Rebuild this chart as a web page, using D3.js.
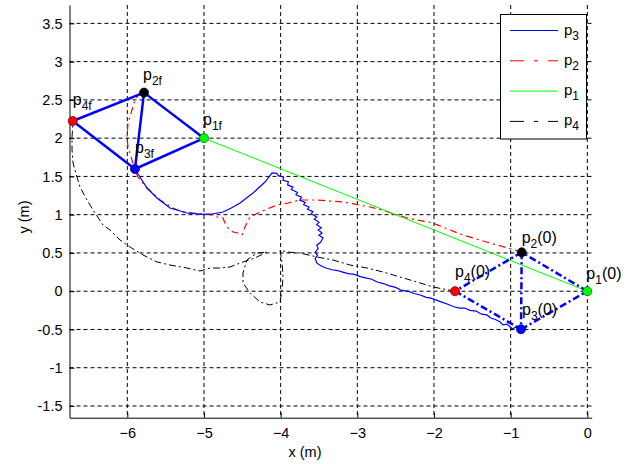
<!DOCTYPE html>
<html>
<head>
<meta charset="utf-8">
<script src="https://cdn.jsdelivr.net/npm/d3@7"></script>
<style>
  body { margin: 0; background: #fff; }
  svg { display: block; font-family: "Liberation Sans", Arial, Helvetica, sans-serif; }
</style>
</head>
<body>
<svg id="chart" width="635" height="464"></svg>
<script>
// ---------- data ----------
const xTicks = [-6, -5, -4, -3, -2, -1, 0];
const yTicks = [-1.5, -1, -0.5, 0, 0.5, 1, 1.5, 2, 2.5, 3, 3.5];

// initial and final positions of the four points [x, y]
const initialPts = { p1: [0, 0], p2: [-0.856, 0.508], p3: [-0.865, -0.498], p4: [-1.726, 0] };
const finalPts   = { p1: [-5.0, 2.0], p2: [-5.782, 2.595], p3: [-5.90, 1.597], p4: [-6.712, 2.224] };
const edges = [["p1","p2"],["p2","p4"],["p4","p3"],["p3","p1"],["p2","p3"]];

// trajectory of p1 (straight)
const trajP1 = [[0, 0], [-5.0, 2.0]];

// trajectory of p2
const trajP2 = [
  [-0.856,0.508],[-0.943,0.538],[-1.269,0.630],[-1.660,0.747],[-2.012,0.891],[-2.351,0.957],
  [-2.677,1.061],[-2.834,1.100],[-3.186,1.166],[-3.525,1.192],[-3.747,1.192],[-3.904,1.153],
  [-4.047,1.126],[-4.269,1.035],[-4.400,0.970],[-4.465,0.839],[-4.504,0.735],[-4.556,0.761],
  [-4.621,0.774],[-4.687,0.826],[-4.726,0.891],[-4.752,0.957],[-4.830,0.970],[-4.895,0.996],
  [-5.013,1.009],[-5.143,1.022],[-5.274,1.035],[-5.404,1.087],[-5.573,1.192],[-5.743,1.348],
  [-5.861,1.492],[-5.900,1.584],[-5.939,1.715],[-5.991,1.884],[-6.004,2.015],[-5.991,2.198],
  [-5.939,2.368],[-5.900,2.499],[-5.835,2.590],[-5.782,2.595]
];

// trajectory of p3
const trajP3 = [
  [-0.865,-0.498],[-0.93,-0.47],[-0.98,-0.49],[-1.05,-0.43],[-1.10,-0.44],[-1.14,-0.40],
  [-1.20,-0.37],[-1.26,-0.35],[-1.31,-0.31],[-1.38,-0.30],[-1.45,-0.26],[-1.53,-0.25],
  [-1.60,-0.22],[-1.67,-0.22],[-1.75,-0.20],[-1.82,-0.17],[-1.88,-0.15],[-1.96,-0.12],
  [-2.04,-0.09],[-2.10,-0.08],[-2.18,-0.05],[-2.26,-0.03],[-2.34,0.00],[-2.42,0.01],
  [-2.50,0.05],[-2.58,0.07],[-2.66,0.10],[-2.74,0.12],[-2.82,0.16],[-2.88,0.17],
  [-2.96,0.19],[-3.04,0.22],[-3.12,0.23],[-3.19,0.25],[-3.26,0.27],[-3.33,0.28],
  [-3.40,0.30],[-3.47,0.33],[-3.53,0.37],[-3.55,0.43],[-3.52,0.47],[-3.55,0.51],
  [-3.51,0.56],[-3.53,0.60],[-3.48,0.64],[-3.447,0.695],[-3.50,0.73],[-3.46,0.76],
  [-3.51,0.80],[-3.47,0.83],[-3.53,0.87],[-3.50,0.90],[-3.56,0.94],[-3.53,0.97],
  [-3.60,1.01],[-3.58,1.04],[-3.65,1.07],[-3.63,1.10],[-3.70,1.13],[-3.68,1.16],
  [-3.75,1.19],[-3.73,1.23],[-3.80,1.26],[-3.78,1.29],[-3.86,1.33],[-3.84,1.36],
  [-3.91,1.39],[-3.90,1.43],[-3.97,1.45],[-3.96,1.49],[-4.03,1.51],[-4.05,1.54],
  [-4.112,1.545],[-4.204,1.427],[-4.360,1.283],[-4.530,1.153],[-4.650,1.085],[-4.752,1.035],
  [-4.880,1.012],[-5.013,1.005],[-5.222,1.022],[-5.443,1.087],[-5.613,1.218],[-5.743,1.348],
  [-5.835,1.492],[-5.900,1.597]
];

// trajectory of p4
const trajP4 = [
  [-1.726,0],[-2.012,0.055],[-2.221,0.120],[-2.443,0.186],[-2.664,0.251],[-2.873,0.303],
  [-3.095,0.342],[-3.317,0.408],[-3.525,0.447],[-3.747,0.499],[-3.917,0.512],[-4.008,0.538],
  [-3.982,0.382],[-3.969,0.186],[-3.982,0.016],[-4.008,-0.141],[-4.139,-0.180],[-4.269,-0.141],
  [-4.400,-0.023],[-4.491,0.107],[-4.491,0.238],[-4.439,0.408],[-4.308,0.499],[-4.178,0.512],
  [-4.335,0.434],[-4.530,0.368],[-4.661,0.316],[-4.791,0.303],[-4.922,0.303],[-5.052,0.264],
  [-5.222,0.303],[-5.443,0.342],[-5.613,0.382],[-5.795,0.473],[-5.965,0.578],[-6.095,0.669],
  [-6.226,0.800],[-6.317,0.865],[-6.447,1.061],[-6.526,1.192],[-6.617,1.362],[-6.656,1.492],
  [-6.708,1.675],[-6.721,1.845],[-6.721,2.015],[-6.708,2.198],[-6.712,2.224]
];

const legendNames = ["3", "2", "1", "4"];
const colors = { p1: "#00ff00", p2: "#ff0000", p3: "#0000ff", p4: "#000000" };
const markerFill = { p1: "#00ff00", p2: "#000000", p3: "#0000ff", p4: "#ff0000" };
const markerEdge = { p1: "#007700", p2: "#000000", p3: "#000077", p4: "#770000" };

// ---------- scales ----------
const svg = d3.select("#chart");
const x = d3.scaleLinear().domain([-6.754, 0.057]).range([69.5, 591.7]);
const y = d3.scaleLinear().domain([-1.653, 3.74]).range([417.7, 5]);
const line = d3.line().x(d => x(d[0])).y(d => y(d[1]));

// ---------- grid ----------
const grid = svg.append("g");
grid.selectAll(".vg").data(xTicks).enter().append("line")
  .attr("x1", d => x(d)).attr("x2", d => x(d))
  .attr("y1", y.range()[1]).attr("y2", y.range()[0])
  .attr("stroke", "#000").attr("stroke-width", 1).attr("stroke-dasharray", "4,3");
grid.selectAll(".hg").data(yTicks).enter().append("line")
  .attr("y1", d => y(d)).attr("y2", d => y(d))
  .attr("x1", x.range()[0]).attr("x2", x.range()[1])
  .attr("stroke", "#000").attr("stroke-width", 1).attr("stroke-dasharray", "4,3");

// ---------- axes ----------
const xAxis = d3.axisBottom(x).tickValues(xTicks).tickFormat(d3.format("d")).tickSizeInner(-5).tickSizeOuter(0).tickPadding(10);
const yAxis = d3.axisLeft(y).tickValues(yTicks).tickFormat(d => String(d)).tickSizeInner(-5).tickSizeOuter(0).tickPadding(7);
const gx = svg.append("g").attr("transform", `translate(0,${y.range()[0]})`).call(xAxis);
const gy = svg.append("g").attr("transform", `translate(${x.range()[0]},0)`).call(yAxis);
[gx, gy].forEach(g => {
  g.select(".domain").attr("stroke", "#000").attr("stroke-width", 1);
  g.selectAll(".tick line").attr("stroke", "#000");
  g.selectAll(".tick text").attr("font-size", 14.5).attr("fill", "#000")
    .style("font-family", '"Liberation Sans", Arial, sans-serif');
});

svg.append("text").attr("x", 305).attr("y", 457).attr("text-anchor", "middle")
  .attr("font-size", 14.5).text("x (m)");
svg.append("text").attr("transform", "translate(29,217) rotate(-90)").attr("text-anchor", "middle")
  .attr("font-size", 14.5).text("y (m)");

// ---------- trajectories ----------
const plot = svg.append("g");
plot.append("path").datum(trajP4).attr("d", line).attr("fill", "none")
  .attr("stroke", colors.p4).attr("stroke-width", 1).attr("stroke-dasharray", "7,3,2,3");
plot.append("path").datum(trajP2).attr("d", line).attr("fill", "none")
  .attr("stroke", colors.p2).attr("stroke-width", 1.2).attr("stroke-dasharray", "7,4,2,4");
plot.append("path").datum(trajP3).attr("d", line).attr("fill", "none")
  .attr("stroke", colors.p3).attr("stroke-width", 1.2);
plot.append("path").datum(trajP1).attr("d", line).attr("fill", "none")
  .attr("stroke", colors.p1).attr("stroke-width", 1);

// ---------- formations ----------
plot.selectAll(".ie").data(edges).enter().append("line")
  .attr("x1", d => x(initialPts[d[0]][0])).attr("y1", d => y(initialPts[d[0]][1]))
  .attr("x2", d => x(initialPts[d[1]][0])).attr("y2", d => y(initialPts[d[1]][1]))
  .attr("stroke", "#0000ff").attr("stroke-width", 2.5).attr("stroke-dasharray", "7,3,2,3");
plot.selectAll(".fe").data(edges).enter().append("line")
  .attr("x1", d => x(finalPts[d[0]][0])).attr("y1", d => y(finalPts[d[0]][1]))
  .attr("x2", d => x(finalPts[d[1]][0])).attr("y2", d => y(finalPts[d[1]][1]))
  .attr("stroke", "#0000ff").attr("stroke-width", 2.5);

const keys = ["p1", "p2", "p3", "p4"];
[initialPts, finalPts].forEach(pts => {
  plot.selectAll(null).data(keys).enter().append("circle")
    .attr("cx", k => x(pts[k][0])).attr("cy", k => y(pts[k][1])).attr("r", 4.5)
    .attr("fill", k => markerFill[k]).attr("stroke", k => markerEdge[k]).attr("stroke-width", 0.8);
});

// ---------- point labels ----------
const labelFinal = [
  { k: "p1", sub: "1f", dx: -1, dy: -13 },
  { k: "p2", sub: "2f", dx: -1, dy: -13 },
  { k: "p3", sub: "3f", dx: 0, dy: -16 },
  { k: "p4", sub: "4f", dx: 0, dy: -16 }
];
const labelInit = [
  { k: "p1", sub: "1", dx: -1, dy: -12 },
  { k: "p2", sub: "2", dx: 0, dy: -9 },
  { k: "p3", sub: "3", dx: 1, dy: -14 },
  { k: "p4", sub: "4", dx: 0, dy: -14 }
];
function addLabel(pts, L, suffix) {
  const t = svg.append("text").attr("font-size", 16)
    .attr("x", x(pts[L.k][0]) + L.dx).attr("y", y(pts[L.k][1]) + L.dy);
  t.append("tspan").text("p");
  t.append("tspan").attr("font-size", 12).attr("dy", 5).text(L.sub);
  if (suffix) t.append("tspan").attr("dy", -5).text(suffix);
}
labelFinal.forEach(L => addLabel(finalPts, L, ""));
labelInit.forEach(L => addLabel(initialPts, L, "(0)"));

// ---------- legend ----------
const lg = svg.append("g");
lg.append("rect").attr("x", 500.5).attr("y", 14.5).attr("width", 86).attr("height", 124.5)
  .attr("fill", "#fff").attr("stroke", "#000").attr("stroke-width", 1);
const legendStyles = {
  "3": { c: colors.p3, dash: null },
  "2": { c: colors.p2, dash: "14,10,4,10" },
  "1": { c: colors.p1, dash: null },
  "4": { c: colors.p4, dash: "14,10,4,10" }
};
legendNames.forEach((n, i) => {
  const yy = 30.5 + i * 30.3;
  lg.append("line").attr("x1", 510).attr("x2", 558).attr("y1", yy).attr("y2", yy)
    .attr("stroke", legendStyles[n].c).attr("stroke-width", 1)
    .attr("stroke-dasharray", legendStyles[n].dash);
  const t = lg.append("text").attr("x", 564).attr("y", yy + 4).attr("font-size", 15);
  t.append("tspan").text("p");
  t.append("tspan").attr("font-size", 12).attr("dy", 5).text(n);
});
</script>
</body>
</html>
